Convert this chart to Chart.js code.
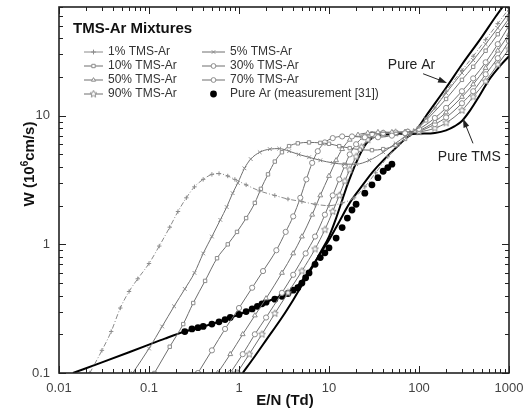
<!DOCTYPE html>
<html>
<head>
<meta charset="utf-8">
<script src="https://cdn.jsdelivr.net/npm/chart.js@4.4.1/dist/chart.umd.min.js"></script>
<style>
html, body { margin: 0; padding: 0; background: #fff; }
#wrap { width: 526px; height: 414px; }
</style>
</head>
<body>
<div id="wrap"><canvas id="chart" width="526" height="414"></canvas></div>
<script>
// drift velocity W (10^6 cm/s) vs E/N (Td), pairs
const xTicks = [0.01, 0.1, 1, 10, 100, 1000];
const yTicks = [0.1, 1, 10];

const mix1 = [[0.022,0.1],[0.03,0.15],[0.038,0.21],[0.048,0.32],[0.06,0.43],[0.075,0.54],[0.1,0.71],[0.13,0.97],[0.17,1.36],[0.21,1.8],[0.26,2.3],[0.32,2.8],[0.4,3.2],[0.5,3.5],[0.6,3.55],[0.75,3.4],[0.9,3.2],[1.2,2.9],[1.7,2.6],[2.5,2.4],[3.5,2.25],[5,2.15],[7,2.05],[10,2.0],[14,2.1],[19,2.3],[25,2.8],[33,3.6],[45,4.8],[60,6.0],[80,7.1],[100,8.2],[150,11.5],[200,15.5],[300,22.5],[400,29],[550,39],[750,52],[1000,68]];
const mix5 = [[0.066,0.1],[0.1,0.155],[0.14,0.23],[0.19,0.33],[0.25,0.45],[0.32,0.6],[0.4,0.85],[0.5,1.15],[0.62,1.55],[0.73,1.95],[0.85,2.5],[0.97,3.0],[1.15,3.9],[1.35,4.6],[1.7,5.2],[2.2,5.5],[2.8,5.55],[3.6,5.3],[4.6,5.0],[6,4.75],[8,4.5],[11,4.3],[15,4.2],[20,4.2],[28,4.5],[40,5.2],[55,6.1],[70,6.9],[90,7.7],[120,9.5],[200,15],[300,21.5],[400,27],[550,36],[750,48],[1000,63]];
const mix10 = [[0.115,0.1],[0.17,0.16],[0.24,0.24],[0.31,0.35],[0.42,0.52],[0.57,0.78],[0.75,1.0],[0.95,1.25],[1.2,1.6],[1.5,2.1],[1.75,2.7],[2.1,3.5],[2.5,4.4],[3,5.2],[3.6,5.8],[4.5,6.1],[6,6.2],[8,6.15],[10,6.05],[13,5.8],[17,5.6],[22,5.45],[30,5.4],[40,5.5],[55,5.9],[70,6.6],[90,7.6],[120,9.2],[200,13.5],[300,19],[400,24],[550,32],[750,43],[1000,57]];
const mix30 = [[0.35,0.1],[0.5,0.15],[0.7,0.22],[1,0.32],[1.4,0.46],[1.85,0.62],[2.6,0.9],[3.3,1.25],[4,1.65],[4.8,2.3],[5.6,3.2],[6.5,4.3],[7.5,5.3],[9,6.2],[11,6.7],[14,6.9],[18,6.9],[25,6.8],[35,6.8],[50,7.0],[70,7.3],[100,7.9],[150,9.6],[200,11.5],[300,15.5],[400,19.5],[550,26],[750,36],[1000,50]];
const mix50 = [[0.58,0.1],[0.8,0.14],[1.1,0.2],[1.5,0.28],[2,0.38],[3,0.6],[4,0.85],[5,1.15],[6.5,1.7],[8,2.4],[10,3.4],[12,4.5],[14,5.5],[17,6.5],[21,7.1],[27,7.35],[35,7.45],[50,7.45],[70,7.5],[100,7.7],[150,9.0],[200,10.6],[300,14],[400,17.5],[550,23.5],[750,32],[1000,43]];
const mix70 = [[0.8,0.1],[1.1,0.14],[1.5,0.2],[2,0.27],[3,0.42],[4,0.58],[5.5,0.85],[7,1.15],[9,1.7],[11,2.4],[13,3.2],[15,4.1],[17,5.0],[20,6.0],[24,6.8],[30,7.2],[40,7.35],[55,7.4],[75,7.5],[100,7.6],[150,8.6],[200,9.7],[300,12.5],[400,15.5],[550,21],[750,28],[1000,38]];
const mix90 = [[0.95,0.1],[1.3,0.14],[1.8,0.2],[2.5,0.29],[3.5,0.42],[5,0.62],[7,0.92],[9,1.3],[11,1.8],[13,2.4],[15,3.1],[17,3.8],[20,4.8],[23,5.7],[27,6.5],[32,7.0],[40,7.25],[55,7.35],[75,7.45],[100,7.5],[150,8.0],[200,8.8],[300,11],[400,14],[550,18.5],[750,25],[1000,33]];
const pureAr = [[0.0143,0.1],[0.03,0.121],[0.06,0.145],[0.1,0.166],[0.15,0.185],[0.25,0.21],[0.4,0.23],[0.6,0.25],[1,0.285],[1.5,0.32],[2,0.355],[3,0.4],[4,0.44],[5,0.52],[6,0.62],[8,0.85],[10,1.08],[13,1.5],[17,2.1],[22,2.7],[30,3.6],[40,4.5],[55,5.6],[70,6.6],[92,7.65],[120,10],[200,16.5],[300,25],[500,41],[700,58],[1000,82]];
const pureTms = [[1.1,0.1],[1.5,0.135],[2,0.18],[3,0.27],[4,0.37],[5,0.48],[6,0.6],[7,0.72],[8,0.86],[10,1.15],[12,1.6],[14,2.2],[16,2.9],[18,3.6],[20,4.3],[23,5.3],[26,6.1],[30,6.7],[35,7.0],[45,7.15],[60,7.2],[80,7.2],[100,7.25],[150,7.35],[200,7.7],[250,8.3],[300,9.1],[370,11],[470,14.3],[600,19],[800,24.5],[1000,29]];
const arMeasured = [[0.25,0.21],[0.3,0.22],[0.35,0.225],[0.4,0.23],[0.5,0.24],[0.6,0.25],[0.7,0.26],[0.8,0.27],[1,0.285],[1.2,0.3],[1.4,0.315],[1.6,0.33],[1.8,0.345],[2,0.355],[2.5,0.375],[3,0.395],[3.5,0.415],[4,0.44],[4.5,0.46],[5,0.5],[5.5,0.55],[6,0.6],[7,0.7],[8,0.79],[9,0.86],[10,0.94],[12,1.12],[14,1.35],[16,1.6],[18,1.85],[20,2.05],[25,2.5],[30,2.9],[35,3.3],[40,3.7],[45,3.95],[50,4.2]];

const FONT = '"Liberation Sans", Arial, sans-serif';
const GREY_LINE = '#6f6f6f';
const GREY_MARK = '#8c8c8c';

// open star marker for the 90% curve
function starMarker(size) {
    const c = document.createElement('canvas');
    c.width = size; c.height = size;
    const g = c.getContext('2d');
    const r = size / 2 - 0.8, ri = r * 0.45, cx = size / 2, cy = size / 2;
    g.beginPath();
    for (let i = 0; i < 10; i++) {
        const rr = i % 2 ? ri : r;
        const a = -Math.PI / 2 + i * Math.PI / 5;
        g[i ? 'lineTo' : 'moveTo'](cx + rr * Math.cos(a), cy + rr * Math.sin(a));
    }
    g.closePath();
    g.fillStyle = '#fff';
    g.fill();
    g.strokeStyle = GREY_MARK;
    g.lineWidth = 1;
    g.stroke();
    return c;
}
const star = starMarker(9);

function pts(arr) {
    return arr.map(p => ({ x: p[0], y: p[1] }));
}

function mixture(label, arr, style, extra) {
    return Object.assign({
        label,
        data: pts(arr),
        borderColor: GREY_LINE,
        borderWidth: 1,
        pointStyle: style,
        pointRadius: 2.6,
        pointBorderWidth: 1,
        pointBorderColor: GREY_MARK,
        pointBackgroundColor: '#fff',
        cubicInterpolationMode: 'monotone',
        fill: false
    }, extra || {});
}

const datasets = [
    mixture('1% TMS-Ar', mix1, 'cross', { borderDash: [5, 2, 1, 2], borderColor: '#8a8a8a', pointRadius: 2.2 }),
    mixture('5% TMS-Ar', mix5, 'crossRot'),
    mixture('10% TMS-Ar', mix10, 'rect', { pointRadius: 2.4 }),
    mixture('30% TMS-Ar', mix30, 'circle'),
    mixture('50% TMS-Ar', mix50, 'triangle', { pointRadius: 2.8 }),
    mixture('70% TMS-Ar', mix70, 'circle'),
    mixture('90% TMS-Ar', mix90, star),
    {
        label: 'Pure Ar', data: pts(pureAr), borderColor: '#000', borderWidth: 2,
        pointRadius: 0, cubicInterpolationMode: 'monotone', fill: false
    },
    {
        label: 'Pure TMS', data: pts(pureTms), borderColor: '#000', borderWidth: 2,
        pointRadius: 0, cubicInterpolationMode: 'monotone', fill: false
    },
    {
        label: 'Pure Ar (measurement [31])', data: pts(arMeasured), showLine: false,
        pointStyle: 'circle', pointRadius: 3.4, pointBackgroundColor: '#000',
        pointBorderColor: '#000', pointBorderWidth: 0
    }
];

// legend layout: [dataset index, column, row]
const legendItems = [[0, 0, 0], [1, 1, 0], [2, 0, 1], [3, 1, 1], [4, 0, 2], [5, 1, 2], [6, 0, 3], [9, 1, 3]];

function arrow(ctx, x0, y0, x1, y1) {
    const a = Math.atan2(y1 - y0, x1 - x0);
    ctx.beginPath();
    ctx.moveTo(x0, y0);
    ctx.lineTo(x1 - 6 * Math.cos(a), y1 - 6 * Math.sin(a));
    ctx.stroke();
    ctx.beginPath();
    ctx.moveTo(x1, y1);
    ctx.lineTo(x1 - 9 * Math.cos(a) + 3 * Math.sin(a), y1 - 9 * Math.sin(a) - 3 * Math.cos(a));
    ctx.lineTo(x1 - 9 * Math.cos(a) - 3 * Math.sin(a), y1 - 9 * Math.sin(a) + 3 * Math.cos(a));
    ctx.closePath();
    ctx.fill();
}

const decorations = {
    id: 'decorations',
    afterDraw(chart) {
        const { ctx, chartArea: a, scales: { x, y } } = chart;
        ctx.save();

        // inward ticks on all four sides
        ctx.strokeStyle = '#222';
        ctx.lineWidth = 1;
        ctx.beginPath();
        for (let e = -2; e <= 3; e++) {
            for (let k = 1; k <= 9; k++) {
                const v = k * Math.pow(10, e);
                if (v > 1000.001) break;
                const px = Math.round(x.getPixelForValue(v)) + 0.5;
                const len = k === 1 ? 7 : 4;
                ctx.moveTo(px, a.bottom); ctx.lineTo(px, a.bottom - len);
                ctx.moveTo(px, a.top); ctx.lineTo(px, a.top + len);
            }
        }
        for (let e = -1; e <= 1; e++) {
            for (let k = 1; k <= 9; k++) {
                const v = k * Math.pow(10, e);
                if (v > 70) break;
                const py = Math.round(y.getPixelForValue(v)) + 0.5;
                const len = k === 1 ? 7 : 4;
                ctx.moveTo(a.left, py); ctx.lineTo(a.left + len, py);
                ctx.moveTo(a.right, py); ctx.lineTo(a.right - len, py);
            }
        }
        ctx.stroke();

        // plot frame
        ctx.lineWidth = 1.6;
        ctx.strokeStyle = '#222';
        ctx.strokeRect(a.left, a.top, a.right - a.left, a.bottom - a.top);

        // axis titles
        ctx.fillStyle = '#111';
        ctx.font = 'bold 15px ' + FONT;
        ctx.textAlign = 'center';
        ctx.textBaseline = 'middle';
        ctx.fillText('E/N (Td)', 285, 401);

        ctx.save();
        ctx.translate(30, 164);
        ctx.rotate(-Math.PI / 2);
        const p1 = 'W (10', p2 = '6', p3 = 'cm/s)';
        ctx.font = 'bold 15px ' + FONT;
        const w1 = ctx.measureText(p1).width, w3 = ctx.measureText(p3).width;
        ctx.font = 'bold 10px ' + FONT;
        const w2 = ctx.measureText(p2).width;
        let sx = -(w1 + w2 + w3) / 2;
        ctx.textAlign = 'left';
        ctx.font = 'bold 15px ' + FONT;
        ctx.fillText(p1, sx, 0);
        ctx.font = 'bold 10px ' + FONT;
        ctx.fillText(p2, sx + w1, -5);
        ctx.font = 'bold 15px ' + FONT;
        ctx.fillText(p3, sx + w1 + w2, 0);
        ctx.restore();

        // legend inside the plot
        ctx.textAlign = 'left';
        ctx.textBaseline = 'middle';
        ctx.font = 'bold 15px ' + FONT;
        ctx.fillStyle = '#111';
        ctx.fillText('TMS-Ar Mixtures', 73, 29);
        ctx.font = '12px ' + FONT;
        const cols = [[84, 103, 108], [202, 225, 230]];
        legendItems.forEach(([di, c, r]) => {
            const ds = datasets[di];
            const [l0, l1, tx] = cols[c];
            const ly = 52 + r * 14;
            const mx = (l0 + l1) / 2;
            if (ds.showLine !== false) {
                ctx.strokeStyle = ds.borderColor;
                ctx.lineWidth = 1;
                ctx.setLineDash([]);
                ctx.beginPath();
                ctx.moveTo(l0, ly); ctx.lineTo(l1, ly);
                ctx.stroke();
            }
            ctx.strokeStyle = ds.pointBorderColor;
            ctx.fillStyle = ds.pointBackgroundColor;
            ctx.lineWidth = ds.showLine === false ? 0 : 1;
            Chart.helpers.drawPoint(ctx, {
                pointStyle: ds.pointStyle,
                radius: ds.showLine === false ? 3.4 : 2.4,
                borderWidth: ds.showLine === false ? 0 : 1,
                rotation: 0
            }, mx, ly);
            ctx.fillStyle = '#333';
            ctx.fillText(ds.label, tx, ly);
        });

        // curve annotations, anchored in data units
        ctx.fillStyle = '#222';
        ctx.strokeStyle = '#222';
        ctx.lineWidth = 1;
        ctx.font = '14px ' + FONT;
        ctx.fillText('Pure Ar', x.getPixelForValue(45), y.getPixelForValue(24.8));
        ctx.fillText('Pure TMS', x.getPixelForValue(162), y.getPixelForValue(4.8));
        arrow(ctx, x.getPixelForValue(111), y.getPixelForValue(21.2), x.getPixelForValue(205), y.getPixelForValue(18));
        arrow(ctx, x.getPixelForValue(398), y.getPixelForValue(6.1), x.getPixelForValue(308), y.getPixelForValue(9.5));

        ctx.restore();
    }
};

Chart.defaults.font.family = FONT;

new Chart(document.getElementById('chart'), {
    type: 'line',
    data: { datasets },
    options: {
        responsive: false,
        animation: false,
        layout: { padding: { top: 7, right: 17, left: 0, bottom: 0 } },
        plugins: { legend: { display: false }, tooltip: { enabled: false } },
        scales: {
            x: {
                type: 'logarithmic',
                min: 0.01,
                max: 1000,
                grid: { display: false, drawTicks: false },
                border: { display: false },
                afterBuildTicks: s => { s.ticks = xTicks.map(v => ({ value: v })); },
                afterFit: s => { s.height = 41; s.paddingLeft = 0; s.paddingRight = 0; },
                ticks: {
                    color: '#444',
                    font: { size: 13 },
                    padding: 8,
                    maxRotation: 0,
                    autoSkip: false,
                    callback: v => String(v)
                }
            },
            y: {
                type: 'logarithmic',
                min: 0.1,
                max: 70,
                grid: { display: false, drawTicks: false },
                border: { display: false },
                afterBuildTicks: s => { s.ticks = yTicks.map(v => ({ value: v })); },
                afterFit: s => { s.width = 59; s.paddingTop = 0; s.paddingBottom = 0; },
                ticks: {
                    color: '#444',
                    font: { size: 13 },
                    padding: 9,
                    autoSkip: false,
                    callback: v => String(v)
                }
            }
        }
    },
    plugins: [decorations]
});
</script>
</body>
</html>
